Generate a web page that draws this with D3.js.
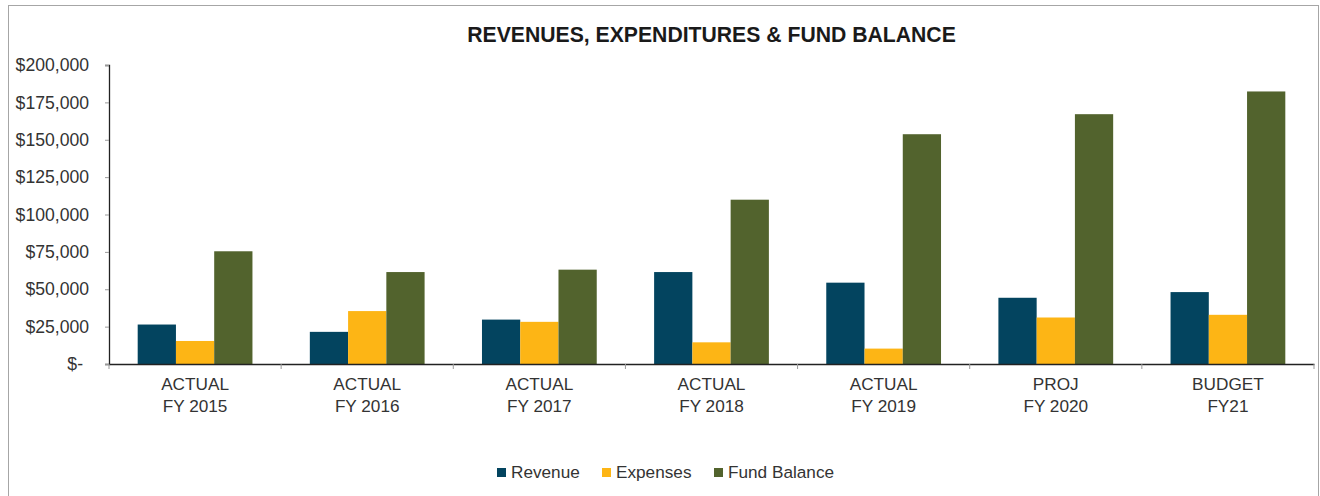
<!DOCTYPE html>
<html>
<head>
<meta charset="utf-8">
<script src="https://cdn.jsdelivr.net/npm/d3@7"></script>
<style>
  html, body { margin: 0; padding: 0; background: #fff; }
  svg { display: block; font-family: "Liberation Sans", Arial, sans-serif; }
</style>
</head>
<body>
<svg id="chart" width="1320" height="496"></svg>
<script>
// ---- data ----
const categories = [
  ["ACTUAL", "FY 2015"],
  ["ACTUAL", "FY 2016"],
  ["ACTUAL", "FY 2017"],
  ["ACTUAL", "FY 2018"],
  ["ACTUAL", "FY 2019"],
  ["PROJ", "FY 2020"],
  ["BUDGET", "FY21"]
];
const seriesNames = ["Revenue", "Expenses", "Fund Balance"];
const revenue     = [26400, 21500, 29700, 61500, 54400, 44300, 48100];
const expenses    = [15400, 35400, 28200, 14500, 10300, 31100, 32900];
const fundBalance = [75400, 61500, 63100, 109900, 153700, 167100, 182300];
const yTicks = [0, 25000, 50000, 75000, 100000, 125000, 150000, 175000, 200000];
const colors = ["#03445f", "#fdb515", "#52632d"];
const chartTitle = "REVENUES, EXPENDITURES & FUND BALANCE";

(function () {
// ---- layout ----
const svg = d3.select("#chart");
const pLeft = 109, pRight = 1314, pTop = 65, pBottom = 364;

// outer frame
svg.append("rect")
  .attr("x", 8.5).attr("y", 5.5)
  .attr("width", 1310).attr("height", 500)
  .attr("fill", "none").attr("stroke", "#a6a6a6").attr("stroke-width", 1);

svg.append("text")
  .attr("x", (pLeft + pRight) / 2).attr("y", 42)
  .attr("text-anchor", "middle")
  .attr("font-size", 21.2).attr("font-weight", "bold")
  .attr("fill", "#1a1a1a")
  .text(chartTitle);

const keys = categories.map(c => c.join(" "));
const x0 = d3.scaleBand().domain(keys).range([pLeft, pRight]).paddingInner(0).paddingOuter(0);
const x1 = d3.scaleBand().domain(seriesNames).range([0, x0.bandwidth()]).paddingInner(0).paddingOuter(0.75);
const y = d3.scaleLinear().domain([0, 200000]).range([pBottom, pTop]);

const fmt = d3.format(",");
// y axis
const yAxis = d3.axisLeft(y).tickValues(yTicks).tickSize(4).tickPadding(16)
  .tickFormat(d => d === 0 ? "$-" : "$" + fmt(d));
const gy = svg.append("g").attr("transform", `translate(${pLeft},0)`).call(yAxis);
gy.select(".domain").attr("stroke", "#222").attr("stroke-width", 1.3);
gy.selectAll(".tick line").attr("stroke", "#999");
gy.selectAll(".tick text")
  .attr("font-size", 17.6).attr("fill", "#333")
  .attr("font-family", "Liberation Sans, Arial, sans-serif")
  .attr("dx", d => d === 0 ? -6 : 0);

// bars
const rows = categories.map((c, i) => ({
  key: keys[i],
  values: [revenue[i], expenses[i], fundBalance[i]]
}));
const groups = svg.append("g").selectAll("g").data(rows).join("g")
  .attr("transform", d => `translate(${x0(d.key)},0)`);
groups.selectAll("rect")
  .data(d => d.values.map((v, j) => ({ name: seriesNames[j], v, j })))
  .join("rect")
  .attr("x", d => x1(d.name))
  .attr("y", d => y(d.v))
  .attr("width", x1.bandwidth())
  .attr("height", d => y(0) - y(d.v))
  .attr("fill", d => colors[d.j]);

// x axis
const xAxis = d3.axisBottom(x0).tickSize(0).tickFormat("");
const gx = svg.append("g").attr("transform", `translate(0,${pBottom})`).call(xAxis);
gx.select(".domain").attr("stroke", "#222").attr("stroke-width", 1.3);
// boundary ticks
const bounds = keys.map(k => x0(k)).concat([pRight]);
svg.append("g").selectAll("line").data(bounds).join("line")
  .attr("x1", d => d).attr("x2", d => d)
  .attr("y1", pBottom).attr("y2", pBottom + 5)
  .attr("stroke", "#999");
// category labels
const lab = svg.append("g").selectAll("text").data(rows).join("text")
  .attr("x", d => x0(d.key) + x0.bandwidth() / 2)
  .attr("y", pBottom + 26)
  .attr("text-anchor", "middle")
  .attr("font-size", 17.2).attr("fill", "#333");
lab.each(function(d, i) {
  const t = d3.select(this);
  categories[i].forEach((line, k) => {
    t.append("tspan")
      .attr("x", x0(d.key) + x0.bandwidth() / 2)
      .attr("dy", k === 0 ? 0 : 21.5)
      .text(line);
  });
});

// legend
const legendX = [497, 602, 714];
const lg = svg.append("g").selectAll("g").data(seriesNames).join("g")
  .attr("transform", (d, i) => `translate(${legendX[i]},468)`);
lg.append("rect").attr("width", 9).attr("height", 9).attr("fill", (d, i) => colors[i]);
lg.append("text").attr("x", 14).attr("y", 9.5)
  .attr("font-size", 17.2).attr("fill", "#333").text(d => d);
})();
</script>
</body>
</html>
